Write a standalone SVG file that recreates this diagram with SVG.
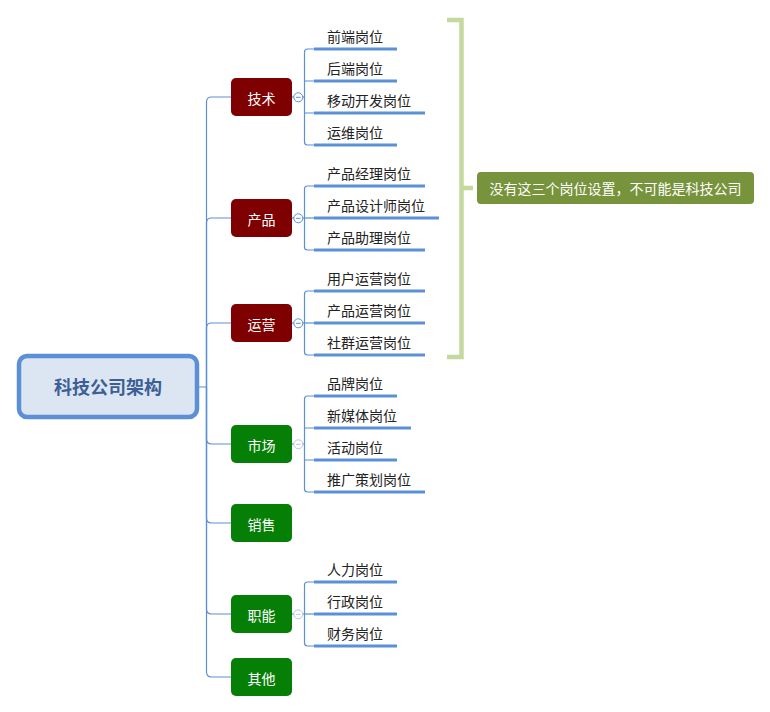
<svg xmlns="http://www.w3.org/2000/svg" width="770" height="712" viewBox="0 0 770 712">
<style>
.ln{fill:none;stroke:#5b8fd6;stroke-width:1.2}
.ul{stroke:#5b8fd6;stroke-width:3}
.red{fill:#7f0000}
.grn{fill:#067f06}
.nt{font-family:"Noto Sans CJK SC","Noto Sans",sans-serif;font-size:14px;fill:#ffffff;text-anchor:middle}
.ct{font-family:"Noto Sans CJK SC","Noto Sans",sans-serif;font-size:14px;fill:#222222}
.tog{fill:#ffffff;stroke:#5b8fd6;stroke-width:1}
.togf{fill:#ffffff;stroke:#b7c9ea;stroke-width:1}
</style>
<rect width="770" height="712" fill="#ffffff"/>
<g id="connectors">
<path class="ln" d="M198,387 H206.5 V102 Q206.5,97 211.5,97 H231"/>
<path class="ln" d="M206.5,387 V223 Q206.5,218 211.5,218 H231"/>
<path class="ln" d="M206.5,387 V328 Q206.5,323 211.5,323 H231"/>
<path class="ln" d="M206.5,387 V439 Q206.5,444 211.5,444 H231"/>
<path class="ln" d="M206.5,387 V518 Q206.5,523 211.5,523 H231"/>
<path class="ln" d="M206.5,387 V609 Q206.5,614 211.5,614 H231"/>
<path class="ln" d="M206.5,387 V672 Q206.5,677 211.5,677 H231"/>
<path class="ln" d="M292,97 H304.5"/>
<path class="ln" d="M314,49 H307.5 Q304.5,49 304.5,52 V142 Q304.5,145 307.5,145 H314"/>
<path class="ln" d="M304.5,81 H314 M304.5,113 H314"/>
<path class="ln" d="M292,218 H304.5"/>
<path class="ln" d="M314,186 H307.5 Q304.5,186 304.5,189 V247 Q304.5,250 307.5,250 H314"/>
<path class="ln" d="M304.5,218 H314"/>
<path class="ln" d="M292,323 H304.5"/>
<path class="ln" d="M314,291 H307.5 Q304.5,291 304.5,294 V352 Q304.5,355 307.5,355 H314"/>
<path class="ln" d="M304.5,323 H314"/>
<path class="ln" d="M292,444 H304.5"/>
<path class="ln" d="M314,396 H307.5 Q304.5,396 304.5,399 V489 Q304.5,492 307.5,492 H314"/>
<path class="ln" d="M304.5,428 H314 M304.5,460 H314"/>
<path class="ln" d="M292,614 H304.5"/>
<path class="ln" d="M314,582 H307.5 Q304.5,582 304.5,585 V643 Q304.5,646 307.5,646 H314"/>
<path class="ln" d="M304.5,614 H314"/>
<path d="M447,20 H461.5 V357 H447 M461.5,188 H473" fill="none" stroke="#c5d89e" stroke-width="4.5"/>
</g>
<g id="root">
<rect x="19" y="356" width="178" height="61" rx="8" fill="#dce6f2" stroke="#5b8fd6" stroke-width="4.5"/>
<text x="108" y="393.5" font-family="'Noto Sans CJK SC','Noto Sans',sans-serif" font-size="18" font-weight="bold" fill="#3c5f95" text-anchor="middle">科技公司架构</text>
</g>
<g id="n-tech"><rect class="red" x="231" y="78" width="61" height="38" rx="5"/><text class="nt" x="261.5" y="103.5">技术</text><circle class="tog" cx="298.3" cy="97.3" r="4.5"/><path d="M296,97.3 H300.6" stroke="#5b8fd6" stroke-width="1"/></g>
<g id="n-prod"><rect class="red" x="231" y="199" width="61" height="38" rx="5"/><text class="nt" x="261.5" y="224.5">产品</text><circle class="tog" cx="298.3" cy="218.3" r="4.5"/><path d="M296,218.3 H300.6" stroke="#5b8fd6" stroke-width="1"/></g>
<g id="n-ops"><rect class="red" x="231" y="304" width="61" height="38" rx="5"/><text class="nt" x="261.5" y="329.5">运营</text><circle class="tog" cx="298.3" cy="323.3" r="4.5"/><path d="M296,323.3 H300.6" stroke="#5b8fd6" stroke-width="1"/></g>
<g id="n-mkt"><rect class="grn" x="231" y="425" width="61" height="38" rx="5"/><text class="nt" x="261.5" y="450.5">市场</text><circle class="togf" cx="298.3" cy="444.3" r="4.5"/><path d="M296,444.3 H300.6" stroke="#b7c9ea" stroke-width="1"/></g>
<g id="n-sales"><rect class="grn" x="231" y="504" width="61" height="38" rx="5"/><text class="nt" x="261.5" y="529.5">销售</text></g>
<g id="n-func"><rect class="grn" x="231" y="595" width="61" height="38" rx="5"/><text class="nt" x="261.5" y="620.5">职能</text><circle class="togf" cx="298.3" cy="614.3" r="4.5"/><path d="M296,614.3 H300.6" stroke="#b7c9ea" stroke-width="1"/></g>
<g id="n-other"><rect class="grn" x="231" y="658" width="61" height="38" rx="5"/><text class="nt" x="261.5" y="683.5">其他</text></g>
<g id="c1"><line class="ul" x1="314" y1="49" x2="397" y2="49"/><text class="ct" x="327" y="42">前端岗位</text></g>
<g id="c2"><line class="ul" x1="314" y1="81" x2="397" y2="81"/><text class="ct" x="327" y="74">后端岗位</text></g>
<g id="c3"><line class="ul" x1="314" y1="113" x2="425" y2="113"/><text class="ct" x="327" y="106">移动开发岗位</text></g>
<g id="c4"><line class="ul" x1="314" y1="145" x2="397" y2="145"/><text class="ct" x="327" y="138">运维岗位</text></g>
<g id="c5"><line class="ul" x1="314" y1="186" x2="425" y2="186"/><text class="ct" x="327" y="179">产品经理岗位</text></g>
<g id="c6"><line class="ul" x1="314" y1="218" x2="439" y2="218"/><text class="ct" x="327" y="211">产品设计师岗位</text></g>
<g id="c7"><line class="ul" x1="314" y1="250" x2="425" y2="250"/><text class="ct" x="327" y="243">产品助理岗位</text></g>
<g id="c8"><line class="ul" x1="314" y1="291" x2="425" y2="291"/><text class="ct" x="327" y="284">用户运营岗位</text></g>
<g id="c9"><line class="ul" x1="314" y1="323" x2="425" y2="323"/><text class="ct" x="327" y="316">产品运营岗位</text></g>
<g id="c10"><line class="ul" x1="314" y1="355" x2="425" y2="355"/><text class="ct" x="327" y="348">社群运营岗位</text></g>
<g id="c11"><line class="ul" x1="314" y1="396" x2="397" y2="396"/><text class="ct" x="327" y="389">品牌岗位</text></g>
<g id="c12"><line class="ul" x1="314" y1="428" x2="411" y2="428"/><text class="ct" x="327" y="421">新媒体岗位</text></g>
<g id="c13"><line class="ul" x1="314" y1="460" x2="397" y2="460"/><text class="ct" x="327" y="453">活动岗位</text></g>
<g id="c14"><line class="ul" x1="314" y1="492" x2="425" y2="492"/><text class="ct" x="327" y="485">推广策划岗位</text></g>
<g id="c15"><line class="ul" x1="314" y1="582" x2="397" y2="582"/><text class="ct" x="327" y="575">人力岗位</text></g>
<g id="c16"><line class="ul" x1="314" y1="614" x2="397" y2="614"/><text class="ct" x="327" y="607">行政岗位</text></g>
<g id="c17"><line class="ul" x1="314" y1="646" x2="397" y2="646"/><text class="ct" x="327" y="639">财务岗位</text></g>
<g id="callout"><rect x="477" y="172" width="277" height="32" rx="4" fill="#77933c"/><text class="nt" x="615.5" y="193.5">没有这三个岗位设置，不可能是科技公司</text></g>
</svg>
